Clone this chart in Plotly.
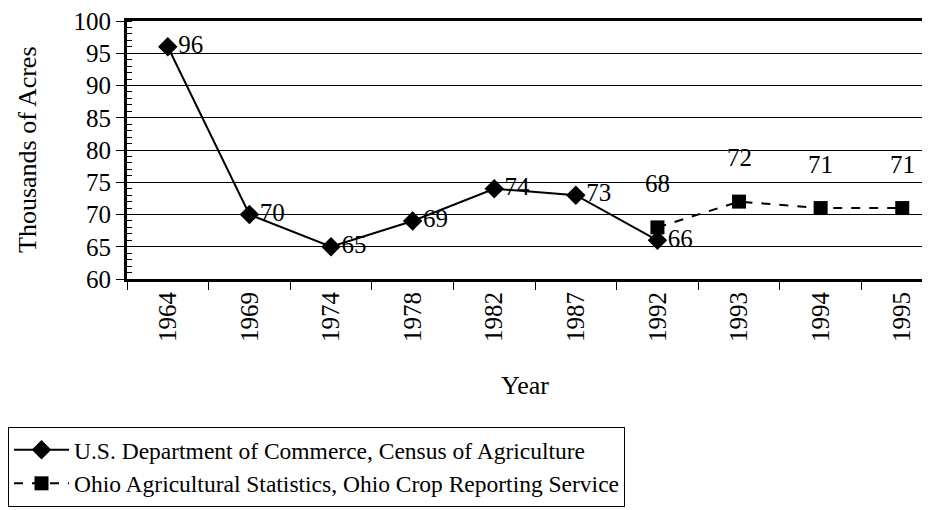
import plotly.graph_objects as go

years = ["1964", "1969", "1974", "1978", "1982", "1987", "1992", "1993", "1994", "1995"]
census_years = ["1964", "1969", "1974", "1978", "1982", "1987", "1992"]
census_vals = [96, 70, 65, 69, 74, 73, 66]
ohio_years = ["1992", "1993", "1994", "1995"]
ohio_vals = [68, 72, 71, 71]
y_ticks = [60, 65, 70, 75, 80, 85, 90, 95, 100]

FONT = "Liberation Serif"
# the page body has an 8px margin, so the figure is drawn 8px right and 8px down
W, H = 922, 502
L, T, B = 119, 13, 231
PW, PH = W - L, H - T - B

fig = go.Figure()
fig.add_trace(go.Scatter(
    x=census_years, y=census_vals, mode="lines+markers+text",
    name="U.S. Department of Commerce, Census of Agriculture",
    line=dict(color="black", width=2),
    marker=dict(symbol="diamond", size=15, color="black"),
    text=[str(v) for v in census_vals], textposition="middle right",
    textfont=dict(family=FONT, size=25, color="black"),
))
fig.add_trace(go.Scatter(
    x=ohio_years, y=ohio_vals, mode="lines+markers",
    name="Ohio Agricultural Statistics, Ohio Crop Reporting Service",
    line=dict(color="black", width=2, dash="dash"),
    marker=dict(symbol="square", size=14, color="black"),
))
for xv, yv in zip(ohio_years, ohio_vals):
    fig.add_annotation(x=years.index(xv), y=yv, text=str(yv), showarrow=False,
                       yshift=44, xref="x", yref="y",
                       font=dict(family=FONT, size=25, color="black"))

fig.add_annotation(text="Thousands of Acres", xref="paper", yref="paper",
                   x=(19 - L) / PW, y=0.5, textangle=-90, showarrow=False,
                   xanchor="center", yanchor="middle",
                   font=dict(family=FONT, size=26, color="black"))
fig.add_annotation(text="Year", xref="paper", yref="paper",
                   x=(517 - L) / PW, y=-(377 - (T + PH)) / PH, showarrow=False,
                   xanchor="center", yanchor="middle",
                   font=dict(family=FONT, size=26, color="black"))

fig.update_layout(
    width=W, height=H,
    margin=dict(l=L, r=0, t=T, b=B, autoexpand=False),
    paper_bgcolor="white", plot_bgcolor="white",
    font=dict(family=FONT, size=25, color="black"),
    showlegend=True,
    legend=dict(xref="paper", yref="paper", x=-L / PW, xanchor="left",
                y=-(419 - (T + PH)) / PH, yanchor="top",
                bordercolor="black", borderwidth=1, bgcolor="white",
                font=dict(family=FONT, size=23.5, color="black"),
                itemwidth=55, tracegroupgap=4),
    xaxis=dict(type="category", categoryorder="array", categoryarray=years,
               range=[-0.5, 9.34], tickangle=-90, showgrid=False, automargin=False,
               ticks="outside", tickson="boundaries", ticklen=8, tickcolor="black",
               showline=True, linecolor="black", linewidth=3, mirror=True,
               tickfont=dict(family=FONT, size=25, color="black")),
    yaxis=dict(range=[60, 100], tickvals=y_ticks, showgrid=True, gridcolor="black",
               gridwidth=1, ticks="outside", ticklen=8, tickcolor="black",
               showline=True, linecolor="black", linewidth=3, mirror=True,
               zeroline=False, automargin=False, ticklabeloverflow="allow",
               minor=dict(ticks="inside", dtick=1, ticklen=5, tickcolor="black", showgrid=False),
               tickfont=dict(family=FONT, size=25, color="black")),
)

fig.write_html("out.html")
